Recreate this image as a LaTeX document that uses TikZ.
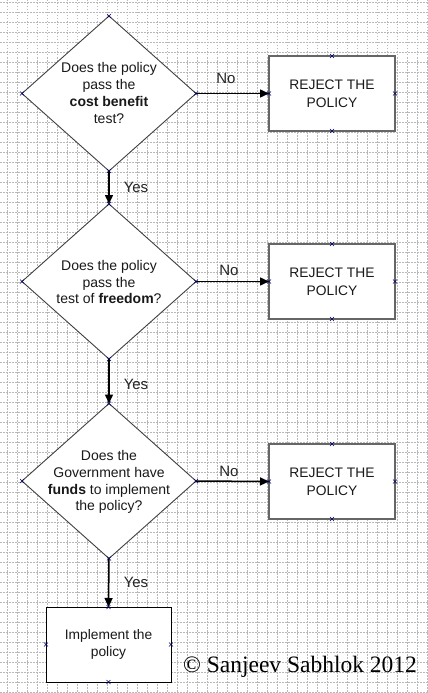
\documentclass[tikz,border=0pt]{standalone}
\usepackage{fontspec}
\setmainfont{Liberation Sans}
\newfontfamily\serifcr{Liberation Serif}
\usetikzlibrary{shapes.geometric,arrows.meta}
\tikzset{
  gridline/.style={draw=black!28, line width=0.7pt, dash pattern=on 1.5pt off 1.5pt},
  dia/.style={draw=black!75, shape=diamond, line width=0.9pt, inner sep=0pt, outer sep=0pt, minimum width=174pt, minimum height=155pt},
  dtext/.style={align=center, inner sep=0pt, font=\fontsize{14}{16.9}\selectfont, text=black!90},
  rej/.style={draw=black!60, line width=1.6pt, fill=white, minimum width=126pt, minimum height=75pt, inner sep=0pt, outer sep=0pt, align=center, font=\fontsize{13.8}{17.7}\selectfont, text=black!90},
  impl/.style={draw=black, line width=1pt, fill=white, minimum width=125pt, minimum height=75pt, inner sep=0pt, outer sep=0pt, align=center, font=\fontsize{13.8}{17}\selectfont, text=black!90},
  arr/.style={draw=black, line width=1.5pt, -{Triangle[length=9pt,width=8pt]}},
  lbl/.style={inner sep=0pt, font=\fontsize{15}{17}\selectfont, text=black!85},
  mk/.style={draw=blue!40!black, line width=0.6pt}
}
\newcommand\pmark[1]{\draw[mk] (#1) +(-2pt,-2pt) -- +(2pt,2pt) +(-2pt,2pt) -- +(2pt,-2pt);}
\begin{document}
\begin{tikzpicture}[x=1pt,y=-1pt]
\fill[white] (0,0) rectangle (428,693);
\useasboundingbox (0,0) rectangle (428,693);
\foreach \i in {0,...,42} { \draw[gridline] (7+10*\i,0) -- (7+10*\i,693); }
\foreach \j in {0,...,69} { \draw[gridline] (0,2+10*\j) -- (428,2+10*\j); }
% diamonds
\node[dia, fill=white] (d1) at (109,93.5) {};
\node[dtext] (t1) at (109,93) {Does the policy\\pass the\\\textbf{cost benefit}\\test?};
\node[dia, fill=white] (d2) at (109,281.5) {};
\node[dtext] (t2) at (109,282) {Does the policy\\pass the\\test of \textbf{freedom}?};
\node[dia, fill=white] (d3) at (109,481) {};
\node[dtext] (t3) at (109,482) {Does the\\Government have\\\textbf{funds} to implement\\the policy?};
% boxes
\node[rej] (r1) at (332,93.5) {REJECT THE\\POLICY};
\node[rej] (r2) at (332,281.5) {REJECT THE\\POLICY};
\node[rej] (r3) at (332,481.5) {REJECT THE\\POLICY};
\node[impl] (im) at (108.5,644.5) {Implement the\\policy};
% arrows
\draw[arr] (d1.east) -- (r1.west);
\draw[arr] (d2.east) -- (r2.west);
\draw[arr] (d3.east) -- (r3.west);
\draw[arr] (d1.south) -- (d2.north);
\draw[arr] (d2.south) -- (d3.north);
\draw[arr] (d3.south) -- (im.north);
% labels
\node[lbl] (n1) at (226,78) {No};
\node[lbl] (n2) at (229,270) {No};
\node[lbl] (n3) at (229,471) {No};
\node[lbl] (y1) at (136,187) {Yes};
\node[lbl] (y2) at (136,384) {Yes};
\node[lbl] (y3) at (136,582) {Yes};
% connection markers
\foreach \n in {d1,d2,d3,r1,r2,r3,im} {
  \foreach \a in {north,south,east,west} { \pmark{\n.\a} }
}
% copyright
\node[inner sep=0pt, anchor=base, font=\serifcr\fontsize{23.5}{26}\selectfont] (cr) at (300,672) {© Sanjeev Sabhlok 2012};
\end{tikzpicture}
\end{document}
